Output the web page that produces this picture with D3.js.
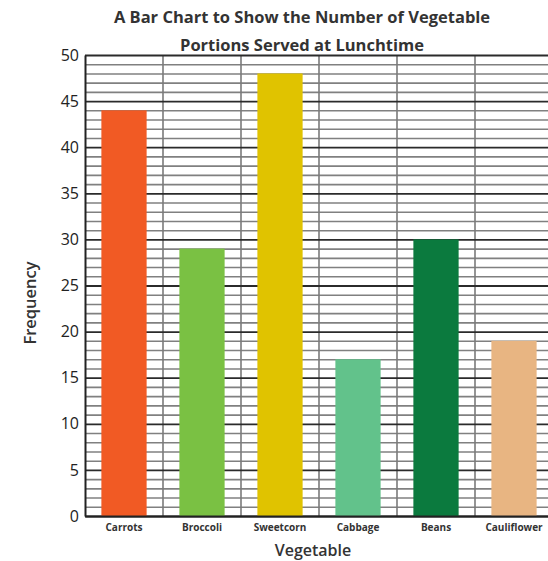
<!DOCTYPE html>
<html>
<head>
<meta charset="utf-8">
<script src="https://cdn.jsdelivr.net/npm/d3@7"></script>
<style>
  html, body { margin: 0; padding: 0; background: #fff; }
  svg { display: block; font-family: "Open Sans", "Noto Sans", sans-serif; }
</style>
</head>
<body>
<svg id="chart" width="548" height="561"></svg>
<script>
const categories = ["Carrots", "Broccoli", "Sweetcorn", "Cabbage", "Beans", "Cauliflower"];
const frequencies = [44, 29, 48, 17, 30, 19];
const barColors = ["#F15A24", "#7AC143", "#E0C300", "#62C28B", "#0B7A3E", "#E8B582"];
const yTickLabels = [0, 5, 10, 15, 20, 25, 30, 35, 40, 45, 50];
const titleLines = ["A Bar Chart to Show the Number of Vegetable", "Portions Served at Lunchtime"];

const svg = d3.select("#chart");
const plotLeft = 85, plotRight = 553, plotTop = 55, plotBottom = 516;

const x = d3.scaleBand().domain(categories).range([plotLeft, plotRight])
  .paddingInner(0.42).paddingOuter(0.21);
const y = d3.scaleLinear().domain([0, 50]).range([plotBottom, plotTop]);

// minor horizontal grid (every unit)
const minorTicks = d3.range(0, 51).filter(v => v % 5 !== 0);
svg.append("g")
  .attr("transform", `translate(${plotLeft},0)`)
  .call(d3.axisLeft(y).tickValues(minorTicks).tickSize(-(plotRight - plotLeft)).tickFormat(""))
  .call(g => g.select(".domain").remove())
  .call(g => g.selectAll("line").attr("stroke", "#808080").attr("stroke-width", 1.6));

// vertical grid at category boundaries
const step = x.step();
const vLines = d3.range(1, categories.length + 1).map(i => plotLeft + i * step);
svg.append("g").selectAll("line").data(vLines).join("line")
  .attr("x1", d => d).attr("x2", d => d)
  .attr("y1", plotTop).attr("y2", plotBottom)
  .attr("stroke", "#7a7a7a").attr("stroke-width", 1.6);

// major horizontal grid (every five)
svg.append("g")
  .attr("transform", `translate(${plotLeft},0)`)
  .call(d3.axisLeft(y).tickValues(yTickLabels).tickSize(-(plotRight - plotLeft)).tickFormat(""))
  .call(g => g.select(".domain").remove())
  .call(g => g.selectAll("line").attr("stroke", "#2b2b2b").attr("stroke-width", 1.8));

// bars
svg.append("g").selectAll("rect").data(categories).join("rect")
  .attr("x", d => x(d))
  .attr("width", x.bandwidth())
  .attr("y", (d, i) => y(frequencies[i]))
  .attr("height", (d, i) => y(0) - y(frequencies[i]))
  .attr("fill", (d, i) => barColors[i]);

// y axis
svg.append("g")
  .attr("transform", `translate(${plotLeft},0)`)
  .call(d3.axisLeft(y).tickValues(yTickLabels).tickSize(0).tickPadding(6))
  .call(g => g.select(".domain").attr("stroke", "#222").attr("stroke-width", 2))
  .call(g => g.selectAll("text").attr("font-size", 16).attr("fill", "#222")
    .attr("font-family", "\"Open Sans\", sans-serif"));

// x axis
svg.append("g")
  .attr("transform", `translate(0,${plotBottom})`)
  .call(d3.axisBottom(x).tickSize(0).tickPadding(8))
  .call(g => g.select(".domain").attr("stroke", "#222").attr("stroke-width", 2))
  .call(g => g.selectAll("text").attr("font-size", 10).attr("font-weight", "bold")
    .attr("fill", "#333").attr("font-family", "\"Open Sans\", sans-serif"));

// title
svg.append("g").selectAll("text").data(titleLines).join("text")
  .attr("x", 302).attr("y", (d, i) => 23 + i * 28)
  .attr("text-anchor", "middle")
  .attr("font-size", 16.5).attr("font-weight", "bold").attr("fill", "#333")
  .text(d => d);

// axis titles
svg.append("text")
  .attr("x", 313).attr("y", 556)
  .attr("text-anchor", "middle")
  .attr("font-size", 16).attr("font-weight", 600).attr("fill", "#333")
  .text("Vegetable");

svg.append("text")
  .attr("transform", "translate(36,303) rotate(-90)")
  .attr("text-anchor", "middle")
  .attr("font-size", 16.5).attr("font-weight", 600).attr("fill", "#333")
  .text("Frequency");
</script>
</body>
</html>
